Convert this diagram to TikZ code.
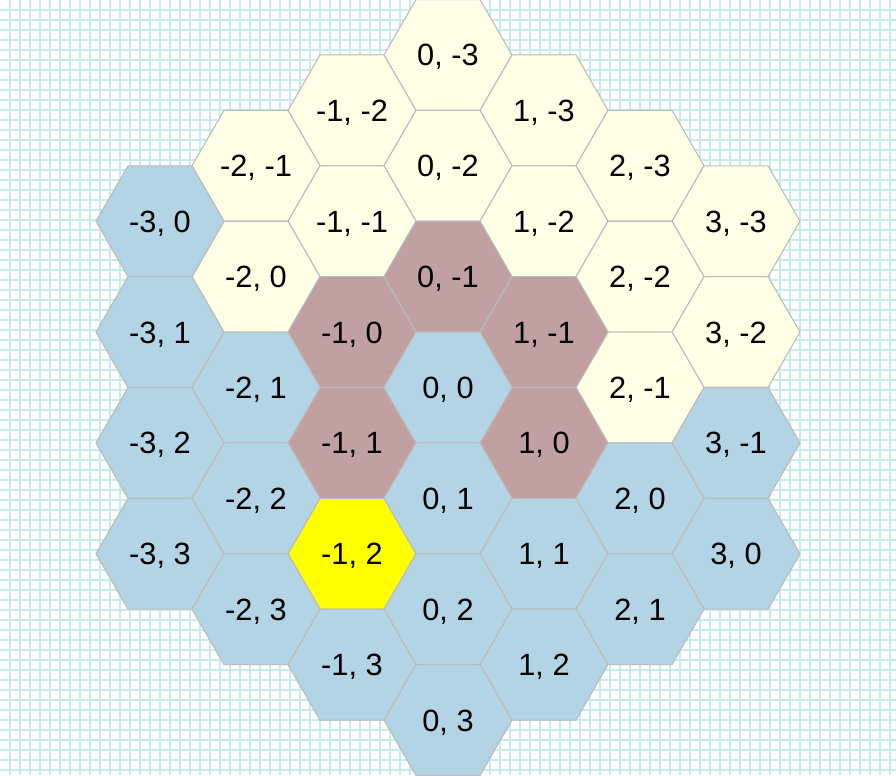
\documentclass[tikz,border=0pt]{standalone}
\usepackage{fontspec}
\setmainfont{Liberation Sans}
\definecolor{cream}{HTML}{FFFFE6}
\definecolor{hexblue}{HTML}{B3D4E4}
\definecolor{hexbrown}{HTML}{C0A0A0}
\definecolor{hexyellow}{HTML}{FFFF00}
\definecolor{gridc}{HTML}{C8ECEC}
\definecolor{edgec}{HTML}{BBBBBB}
\begin{document}
\begin{tikzpicture}[x=0.02cm,y=-0.02cm,
  hexcell/.style={draw=edgec, line width=0.6pt},
  hexlabel/.style={font=\fontsize{17.5}{19}\selectfont, inner sep=0pt, anchor=base},
  gridline/.style={draw=gridc, line width=0.6pt}]
\useasboundingbox (0,0) rectangle (896,775);
\fill[white] (0,0) rectangle (896,775);
\foreach \i in {10,20,...,890} \draw[gridline] (\i,0) -- (\i,775);
\foreach \j in {10,20,...,770} \draw[gridline] (0,\j) -- (896,\j);
\foreach \q/\r/\c in {
  0/-3/cream, -1/-2/cream, 1/-3/cream, -2/-1/cream, 0/-2/cream, 2/-3/cream,
  -1/-1/cream, 1/-2/cream, 3/-3/cream, -2/0/cream, 2/-2/cream, 3/-2/cream, 2/-1/cream,
  0/-1/hexbrown, -1/0/hexbrown, 1/-1/hexbrown, -1/1/hexbrown, 1/0/hexbrown,
  -1/2/hexyellow,
  -3/0/hexblue, -3/1/hexblue, -2/1/hexblue, 0/0/hexblue, -3/2/hexblue, 3/-1/hexblue,
  -2/2/hexblue, 0/1/hexblue, 2/0/hexblue, -3/3/hexblue, 1/1/hexblue, 3/0/hexblue,
  -2/3/hexblue, 0/2/hexblue, 2/1/hexblue, -1/3/hexblue, 1/2/hexblue, 0/3/hexblue} {
  \pgfmathsetmacro\cx{448+96*\q}
  \pgfmathsetmacro\cy{387.5+110.851*(\r+0.5*\q)}
  \filldraw[hexcell, fill=\c] (\cx+64,\cy) -- (\cx+32,\cy-55.4256) -- (\cx-32,\cy-55.4256)
    -- (\cx-64,\cy) -- (\cx-32,\cy+55.4256) -- (\cx+32,\cy+55.4256) -- cycle;
  \node[hexlabel] (h\q_\r) at (\cx,\cy+11) {\q, \r};
}
\end{tikzpicture}
\end{document}
